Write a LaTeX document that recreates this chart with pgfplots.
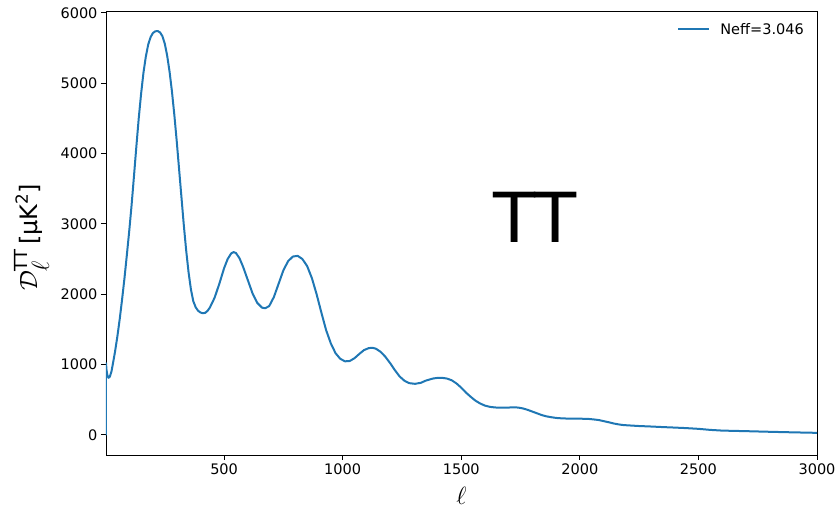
\documentclass[border=0pt]{standalone}
\usepackage{fontspec}
\setmainfont{DejaVu Sans}
\usepackage{amsmath}
\usepackage{pgfplots}
\pgfplotsset{compat=1.18}
\definecolor{mplblue}{HTML}{1F77B4}

% TT temperature power spectrum, D_ell in muK^2
\pgfplotstableread{
ell D
0 0
1 0
2 1020
4 930
7 860
12 810
18 825
25 900
30 990
40 1180
50 1400
60 1650
70 1930
80 2230
90 2560
100 2900
110 3270
120 3680
130 4100
140 4500
150 4850
160 5150
170 5380
180 5550
190 5655
200 5715
210 5738
220 5742
230 5722
240 5668
250 5560
260 5390
270 5165
280 4885
290 4555
300 4185
310 3785
320 3385
330 2985
340 2625
350 2315
360 2070
370 1900
380 1815
390 1765
400 1740
410 1729
420 1734
430 1762
440 1810
460 1950
480 2150
500 2370
515 2500
530 2580
540 2598
550 2585
565 2510
580 2390
600 2200
620 2010
640 1875
660 1808
673 1800
690 1830
710 1960
730 2150
750 2340
770 2470
790 2535
810 2545
830 2500
850 2400
870 2230
890 2000
910 1740
930 1490
950 1300
970 1160
990 1080
1010 1045
1030 1050
1050 1090
1070 1150
1090 1205
1110 1233
1125 1238
1140 1225
1160 1180
1180 1110
1200 1020
1220 920
1240 830
1260 770
1280 735
1305 725
1330 740
1350 770
1380 800
1400 810
1420 810
1440 800
1460 775
1480 730
1500 670
1520 600
1540 540
1560 485
1580 445
1600 415
1620 398
1640 390
1660 385
1680 385
1700 388
1720 390
1740 388
1760 375
1780 355
1800 330
1820 305
1840 280
1860 262
1880 250
1900 240
1920 235
1940 232
1960 231
1980 230
2000 229
2020 228
2040 225
2060 218
2080 210
2100 195
2120 180
2140 163
2160 150
2180 140
2200 135
2250 125
2300 118
2350 110
2400 103
2450 95
2500 85
2550 70
2600 60
2700 52
2800 43
2900 35
3000 28
}\spectrumTT

\begin{document}
\begin{tikzpicture}[x=1pt,y=1pt]
\useasboundingbox (-106,-55) rectangle (731,455);
\begin{axis}[
  at={(0,0)}, anchor=south west,
  scale only axis, width=711pt, height=444pt,
  xmin=2, xmax=3000, ymin=-287, ymax=6027,
  xtick={500,1000,1500,2000,2500,3000},
  ytick={0,1000,2000,3000,4000,5000,6000},
  tick align=outside, tick pos=left,
  major tick length=5pt,
  every tick/.style={black, line width=0.8pt},
  axis line style={black, line width=0.8pt},
  ticklabel style={font=\fontsize{14.5}{17}\selectfont},
  /pgf/number format/assume math mode=true,
  /pgf/number format/1000 sep={},
  scaled ticks=false,
  clip=true,
  xlabel={\fontsize{27}{30}\selectfont$\ell$},
  every axis x label/.style={at={(axis description cs:0.5,-0.1126)}, anchor=base},
  ylabel={{\fontsize{34}{36}\selectfont$\mathcal{D}_\ell^{\text{\fontsize{18}{18}\selectfont TT}}$}{\fontsize{24}{27}\selectfont\,[μK\textsuperscript{2}]}},
  every axis y label/.style={at={(axis description cs:-0.104,0.49)}, rotate=90, anchor=center},
  legend style={draw=none, fill=none, at={(axis description cs:1,1)}, anchor=north east,
    xshift=-8pt, yshift=-8pt, font=\fontsize{14.5}{17}\selectfont,
    /tikz/every odd column/.append style={column sep=8pt}},
  legend cell align=left,
  legend image code/.code={\draw[#1] (0pt,0pt) -- (31pt,0pt);},
]
\addplot[mplblue, line width=2pt, line join=round] table[x=ell, y=D] {\spectrumTT};
\addlegendentry{Neff=3.046}
\node[anchor=base west, inner sep=0pt, font=\fontsize{69}{76}\selectfont] at (axis cs:1635,2730) {TT};
\end{axis}
\end{tikzpicture}
\end{document}
